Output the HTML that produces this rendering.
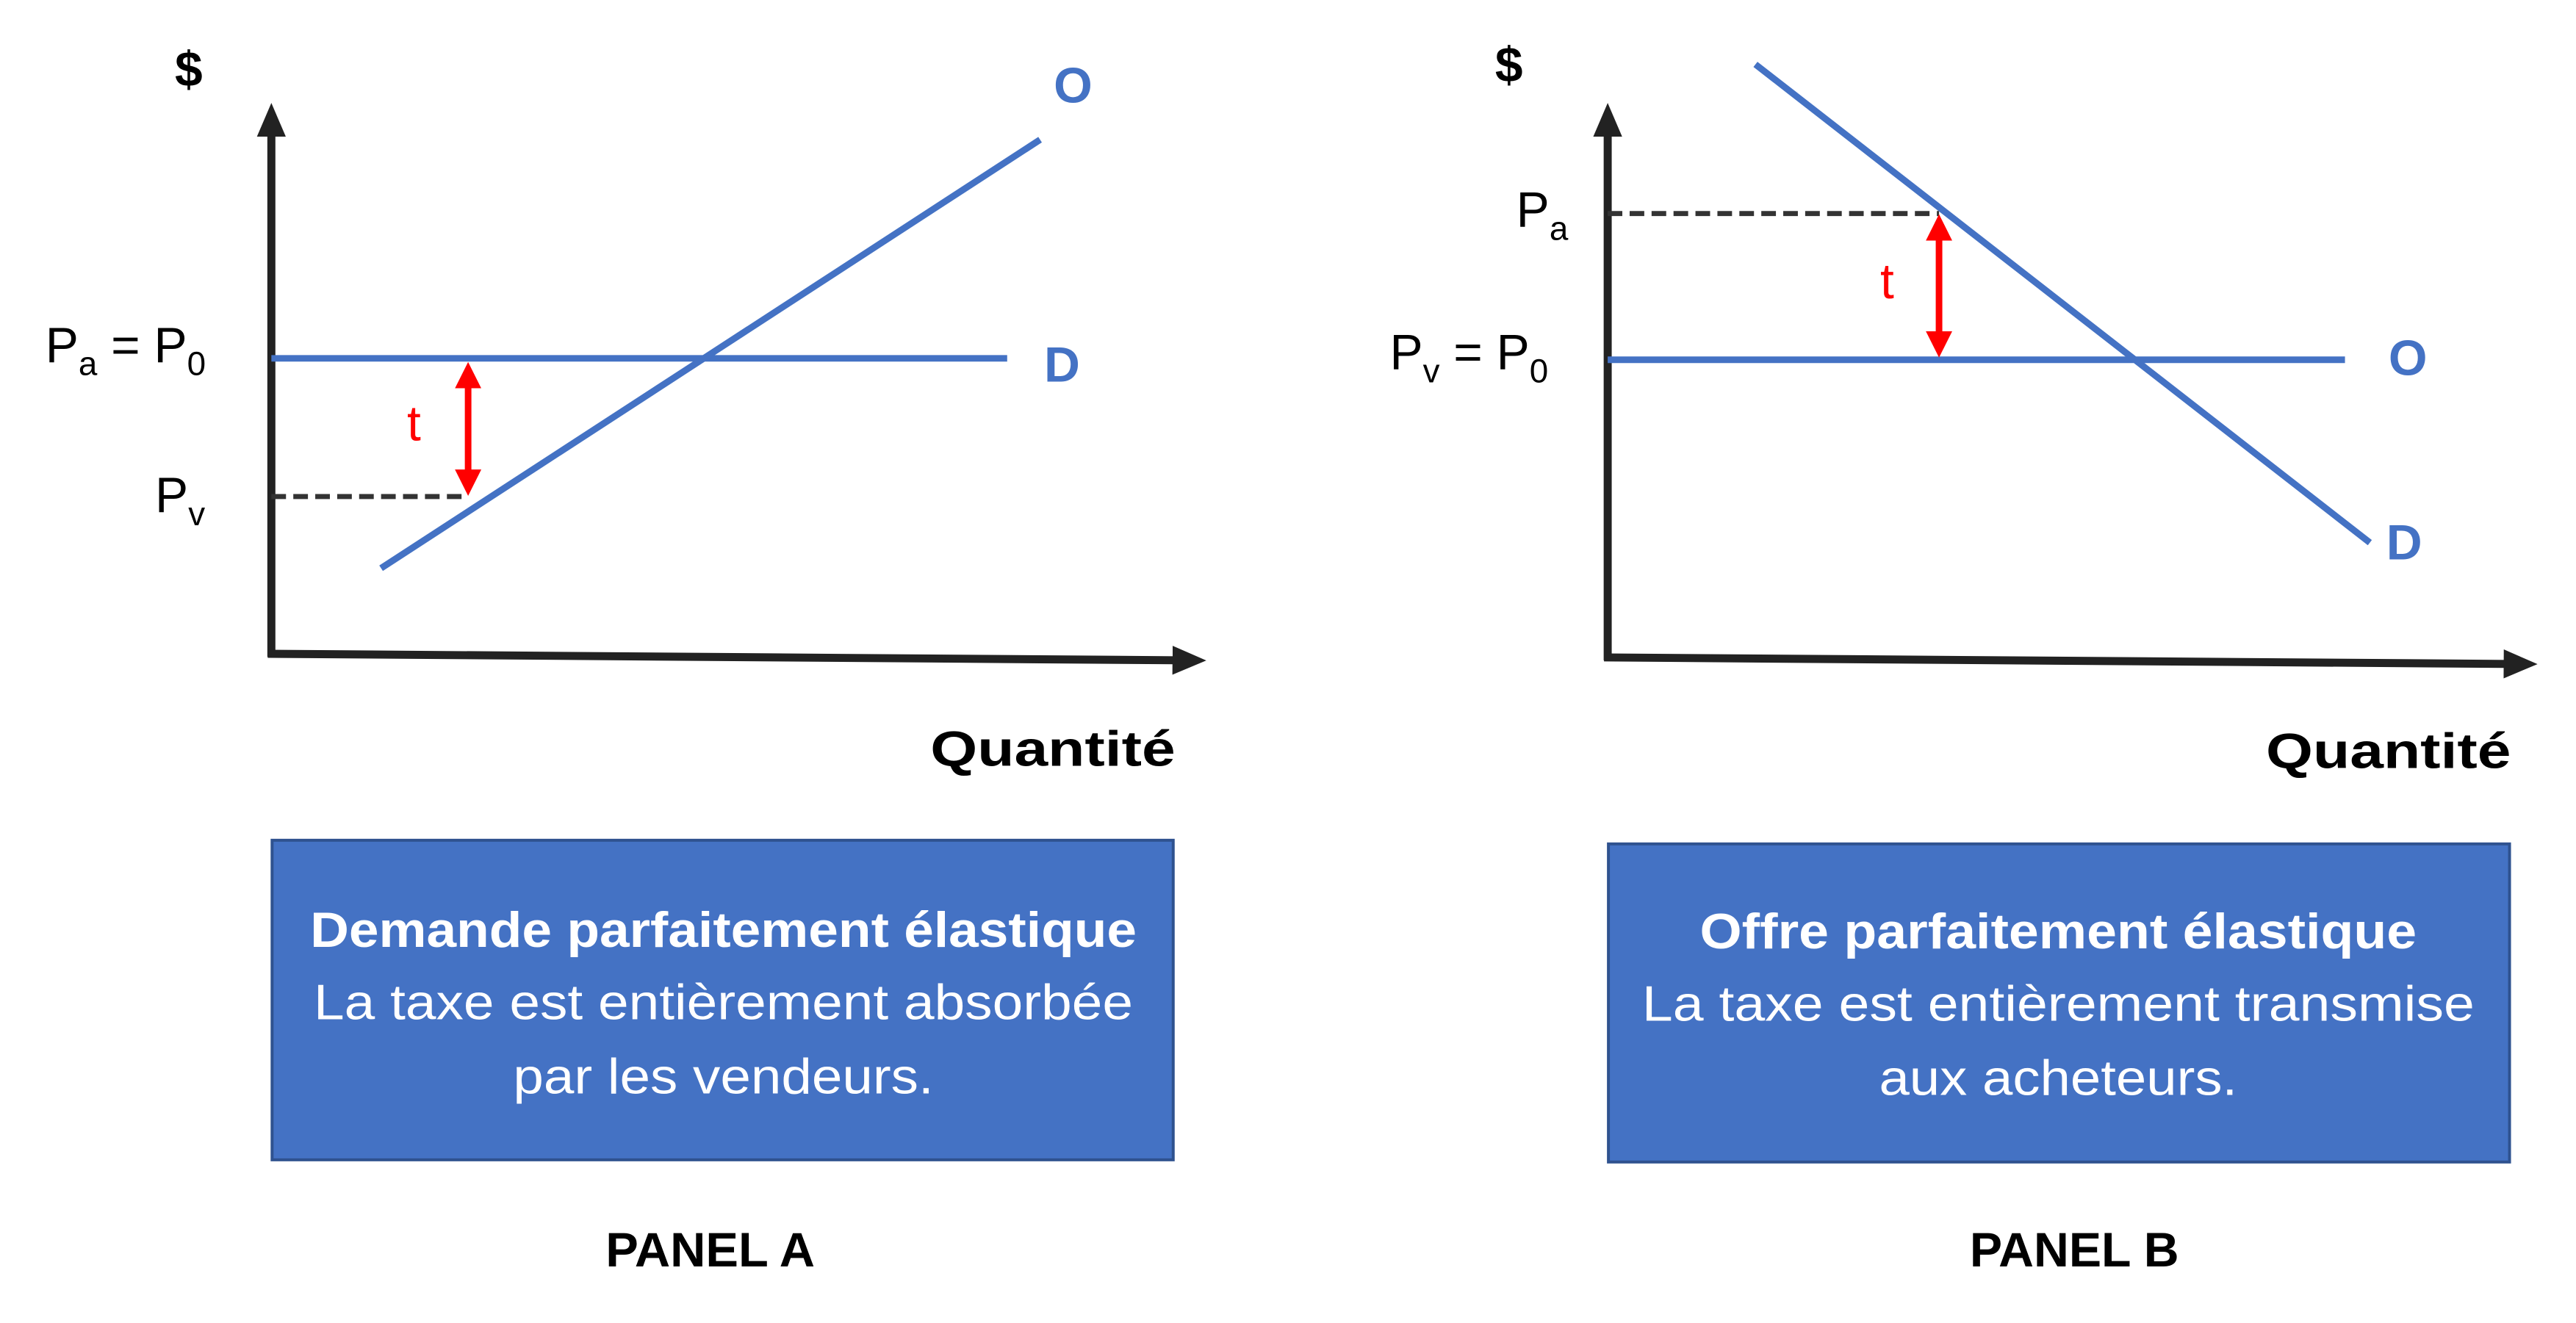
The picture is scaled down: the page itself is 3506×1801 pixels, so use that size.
<!DOCTYPE html>
<html><head><meta charset="utf-8"><style>
html,body{margin:0;padding:0;background:#fff}
svg{display:block}
text{font-family:"Liberation Sans",sans-serif}
</style></head><body>
<svg width="3506" height="1801" viewBox="0 0 3506 1801" xmlns="http://www.w3.org/2000/svg">
<defs>
<marker id="ah" markerWidth="4.2" markerHeight="4" refX="2" refY="2" orient="auto" markerUnits="strokeWidth"><path d="M0,0.2 L4.2,2 L0,3.8 Z" fill="#222"/></marker>
<marker id="rh" markerWidth="4" markerHeight="4" refX="2" refY="2" orient="auto-start-reverse" markerUnits="strokeWidth"><path d="M0,0 L4,2 L0,4 Z" fill="#f00"/></marker>
</defs>
<g transform="scale(0.9955)">
<!-- PANEL A -->
<line x1="371" y1="898" x2="371" y2="165" stroke="#222" stroke-width="11" marker-end="url(#ah)"/>
<line x1="366" y1="894" x2="1625" y2="903" stroke="#222" stroke-width="11" marker-end="url(#ah)"/>
<text x="258" y="118" font-size="68" font-weight="bold" text-anchor="middle">$</text>
<line x1="371" y1="490" x2="1377" y2="490" stroke="#4472C4" stroke-width="9"/>
<line x1="521" y1="777" x2="1422" y2="191" stroke="#4472C4" stroke-width="9"/>
<text x="1467" y="140" font-size="68" font-weight="bold" fill="#4472C4" text-anchor="middle">O</text>
<text x="1452" y="522" font-size="68" font-weight="bold" fill="#4472C4" text-anchor="middle">D</text>
<line x1="371" y1="679" x2="640" y2="679" stroke="#333" stroke-width="7" stroke-dasharray="20,10"/>
<line x1="640" y1="513" x2="640" y2="660" stroke="#f00" stroke-width="9" marker-start="url(#rh)" marker-end="url(#rh)"/>
<text x="566" y="602" font-size="68" fill="#f00" text-anchor="middle">t</text>
<text x="62" y="495" font-size="68">P<tspan font-size="46" dy="18">a</tspan><tspan dy="-18"> = P</tspan><tspan font-size="46" dy="18">0</tspan></text>
<text x="212" y="700" font-size="68">P<tspan font-size="46" dy="18">v</tspan></text>
<text x="1607" y="1047" font-size="68" font-weight="bold" text-anchor="end" textLength="335" lengthAdjust="spacingAndGlyphs">Quantité</text>
<rect x="372" y="1149" width="1232" height="437" fill="#4472C4" stroke="#2F528F" stroke-width="4"/>
<text x="989" y="1295" font-size="68" font-weight="bold" fill="#fff" text-anchor="middle" textLength="1130" lengthAdjust="spacingAndGlyphs">Demande parfaitement élastique</text>
<text x="989" y="1394" font-size="68" fill="#fff" text-anchor="middle" textLength="1120" lengthAdjust="spacingAndGlyphs">La taxe est entièrement absorbée</text>
<text x="989" y="1495" font-size="68" fill="#fff" text-anchor="middle" textLength="575" lengthAdjust="spacingAndGlyphs">par les vendeurs.</text>
<text x="971" y="1732" font-size="66" font-weight="bold" text-anchor="middle" textLength="286" lengthAdjust="spacingAndGlyphs">PANEL A</text>
<!-- PANEL B -->
<line x1="2198" y1="903" x2="2198" y2="165" stroke="#222" stroke-width="11" marker-end="url(#ah)"/>
<line x1="2193" y1="899" x2="3445" y2="908" stroke="#222" stroke-width="11" marker-end="url(#ah)"/>
<text x="2063" y="112" font-size="68" font-weight="bold" text-anchor="middle">$</text>
<line x1="2198" y1="492" x2="3206" y2="492" stroke="#4472C4" stroke-width="9"/>
<line x1="2400" y1="88" x2="3240" y2="742" stroke="#4472C4" stroke-width="9"/>
<text x="3292" y="513" font-size="68" font-weight="bold" fill="#4472C4" text-anchor="middle">O</text>
<text x="3287" y="765" font-size="68" font-weight="bold" fill="#4472C4" text-anchor="middle">D</text>
<line x1="2198" y1="292" x2="2651" y2="292" stroke="#333" stroke-width="7" stroke-dasharray="20,10"/>
<line x1="2651" y1="311" x2="2651" y2="471" stroke="#f00" stroke-width="9" marker-start="url(#rh)" marker-end="url(#rh)"/>
<text x="2580" y="408" font-size="68" fill="#f00" text-anchor="middle">t</text>
<text x="2073" y="310" font-size="68">P<tspan font-size="46" dy="18">a</tspan></text>
<text x="1900" y="505" font-size="68">P<tspan font-size="46" dy="18">v</tspan><tspan dy="-18"> = P</tspan><tspan font-size="46" dy="18">0</tspan></text>
<text x="3433" y="1050" font-size="68" font-weight="bold" text-anchor="end" textLength="335" lengthAdjust="spacingAndGlyphs">Quantité</text>
<rect x="2199" y="1154" width="1232" height="435" fill="#4472C4" stroke="#2F528F" stroke-width="4"/>
<text x="2814" y="1297" font-size="68" font-weight="bold" fill="#fff" text-anchor="middle" textLength="980" lengthAdjust="spacingAndGlyphs">Offre parfaitement élastique</text>
<text x="2814" y="1396" font-size="68" fill="#fff" text-anchor="middle" textLength="1138" lengthAdjust="spacingAndGlyphs">La taxe est entièrement transmise</text>
<text x="2814" y="1497" font-size="68" fill="#fff" text-anchor="middle" textLength="490" lengthAdjust="spacingAndGlyphs">aux acheteurs.</text>
<text x="2836" y="1732" font-size="66" font-weight="bold" text-anchor="middle" textLength="286" lengthAdjust="spacingAndGlyphs">PANEL B</text>
</g>
</svg>
</body></html>
